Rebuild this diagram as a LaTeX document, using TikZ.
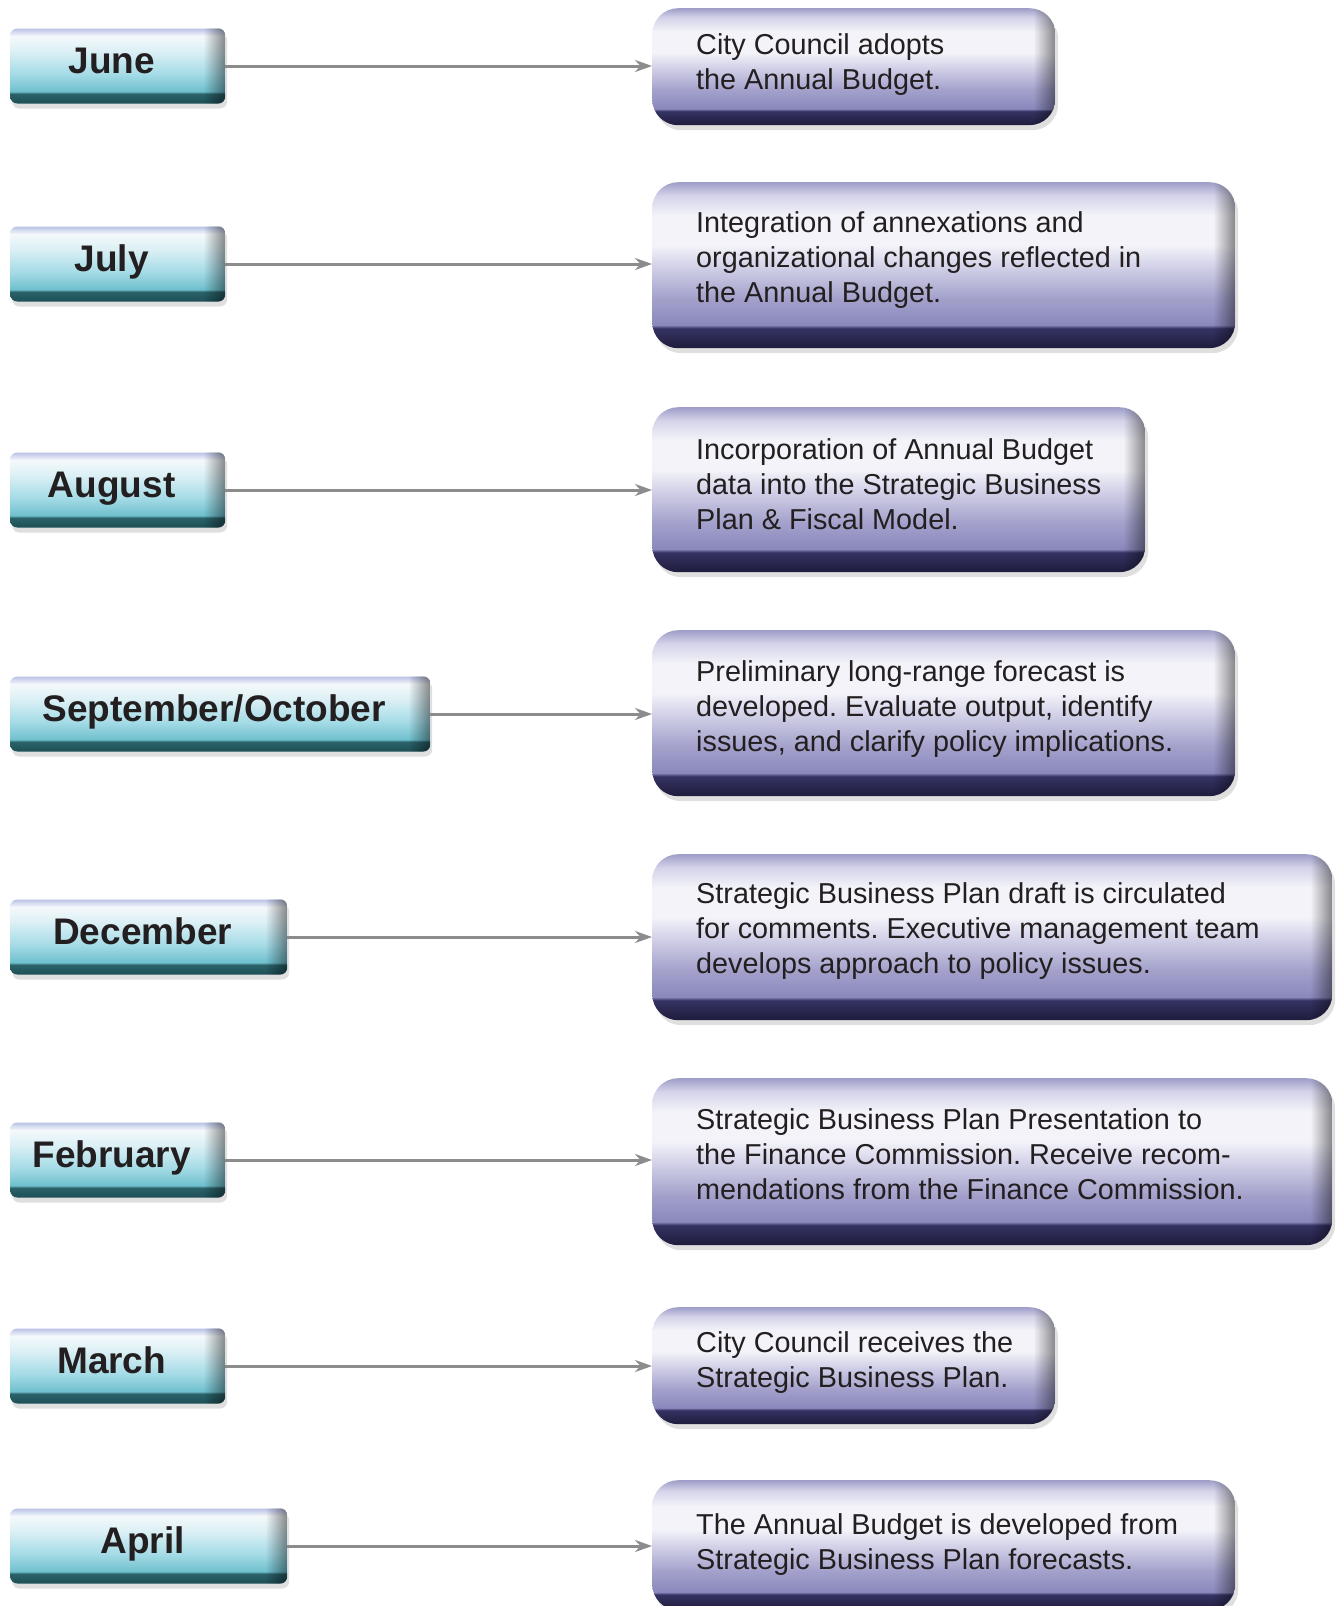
\documentclass[tikz,border=0pt]{standalone}
\usepackage{fontspec}
\setmainfont{Liberation Sans}
\frenchspacing
\usetikzlibrary{arrows.meta,shadows,fadings}

\definecolor{tealdark}{HTML}{1D4F56}
\definecolor{tealband}{HTML}{2B6269}
\definecolor{tealmid}{HTML}{6FC0CD}
\definecolor{teallight}{HTML}{A6DCE7}
\definecolor{tealpale}{HTML}{DCF0F5}
\definecolor{tealwhite}{HTML}{F4F9FB}
\definecolor{tealtop}{HTML}{B9C2E6}
\definecolor{navydark}{HTML}{1E1C3C}
\definecolor{navyband}{HTML}{353363}
\definecolor{lavmid}{HTML}{8A88BC}
\definecolor{lavsoft}{HTML}{A3A1CB}
\definecolor{lavlight}{HTML}{D4D3E9}
\definecolor{lavwhite}{HTML}{F3F3F9}
\definecolor{lavtop}{HTML}{9E9EC8}
\definecolor{linkgray}{HTML}{8C8C8C}
\definecolor{inkgray}{HTML}{231F20}

\pgfdeclareverticalshading{monthshade}{100bp}{color(0bp)=(tealdark); color(25bp)=(tealdark); color(31.5bp)=(tealband); color(33bp)=(tealmid); color(45bp)=(teallight); color(60bp)=(tealpale); color(70bp)=(tealwhite); color(75bp)=(tealtop); color(100bp)=(tealtop)}
\pgfdeclareverticalshading{taskshade}{100bp}{color(0bp)=(navydark); color(25bp)=(navydark); color(31bp)=(navyband); color(32bp)=(lavmid); color(40bp)=(lavsoft); color(50bp)=(lavlight); color(56bp)=(lavwhite); color(65bp)=(lavwhite); color(71bp)=(lavlight); color(75bp)=(lavtop); color(100bp)=(lavtop)}

\begin{document}
\begin{tikzpicture}[x=1pt,y=-1pt,
    month/.style={anchor=west,rounded corners=7pt,shading=monthshade,
        minimum width=#1,minimum height=75pt,inner sep=0pt,text=inkgray,
        text height=27pt,text depth=13pt,execute at end node={\hspace*{12pt}},
        font=\fontsize{37}{40}\selectfont\bfseries,
        drop shadow={shadow xshift=2pt,shadow yshift=-5pt,opacity=0.25}},
    task/.style 2 args={anchor=north west,rounded corners=26pt,shading=taskshade,
        minimum width=#1,minimum height=#2,inner sep=0pt,
        drop shadow={shadow xshift=3pt,shadow yshift=-5pt,opacity=0.25}},
    tasktext/.style={anchor=west,align=left,inner sep=0pt,text=inkgray,
        font=\fontsize{28.8}{35}\selectfont},
    link/.style={draw=linkgray,line width=3pt,-{Stealth[length=17pt,width=12pt]}}]
    \useasboundingbox (0,0) rectangle (1340,1606);
    \node[month=215pt] (jun) at (10,66) {June};
    \node[month=215pt] (jul) at (10,264) {July};
    \node[month=215pt] (aug) at (10,490) {August};
    \node[month=420pt] (sep) at (10,714) {September/October};
    \node[month=277pt] (dec) at (10,937) {December};
    \node[month=215pt] (feb) at (10,1160) {February};
    \node[month=215pt] (mar) at (10,1366) {March};
    \node[month=277pt] (apr) at (10,1546) {April};
    \node[task={403pt}{117pt}] (b1) at (652,8) {};
    \node[task={583pt}{166pt}] (b2) at (652,182) {};
    \node[task={493pt}{165pt}] (b3) at (652,407) {};
    \node[task={583pt}{166pt}] (b4) at (652,630) {};
    \node[task={680pt}{166pt}] (b5) at (652,854) {};
    \node[task={680pt}{167pt}] (b6) at (652,1078) {};
    \node[task={403pt}{117pt}] (b7) at (652,1307) {};
    \node[task={583pt}{130pt}] (b8) at (652,1480) {};
    \foreach \n/\r in {jun/7pt,jul/7pt,aug/7pt,sep/7pt,dec/7pt,feb/7pt,mar/7pt,apr/7pt,
        b1/26pt,b2/26pt,b3/26pt,b4/26pt,b5/26pt,b6/26pt,b7/26pt,b8/26pt}{
        \begin{scope}
            \clip[rounded corners=\r] (\n.south west) rectangle (\n.north east);
            \fill[black,path fading=west,fill opacity=0.45]
                ([xshift=-22pt]\n.south east) rectangle (\n.north east);
        \end{scope}
    }
    \node[tasktext] (t1) at (696,65) {City Council adopts\\the Annual Budget.};
    \node[tasktext] (t2) at (696,260) {Integration of annexations and\\organizational changes reflected in\\the Annual Budget.};
    \node[tasktext] (t3) at (696,484) {Incorporation of Annual Budget\\data into the Strategic Business\\Plan \& Fiscal Model.};
    \node[tasktext] (t4) at (696,709) {Preliminary long-range forecast is\\developed. Evaluate output, identify\\issues, and clarify policy implications.};
    \node[tasktext] (t5) at (696,931) {Strategic Business Plan draft is circulated\\for comments. Executive management team\\develops approach to policy issues.};
    \node[tasktext] (t6) at (696,1154) {Strategic Business Plan Presentation to\\the Finance Commission. Receive recom-\\mendations from the Finance Commission.};
    \node[tasktext] (t7) at (696,1363) {City Council receives the\\Strategic Business Plan.};
    \node[tasktext] (t8) at (696,1545) {The Annual Budget is developed from\\Strategic Business Plan forecasts.};
    \draw[link] (jun.east) -- (jun.east -| b1.west);
    \draw[link] (jul.east) -- (jul.east -| b2.west);
    \draw[link] (aug.east) -- (aug.east -| b3.west);
    \draw[link] (sep.east) -- (sep.east -| b4.west);
    \draw[link] (dec.east) -- (dec.east -| b5.west);
    \draw[link] (feb.east) -- (feb.east -| b6.west);
    \draw[link] (mar.east) -- (mar.east -| b7.west);
    \draw[link] (apr.east) -- (apr.east -| b8.west);
\end{tikzpicture}
\end{document}
